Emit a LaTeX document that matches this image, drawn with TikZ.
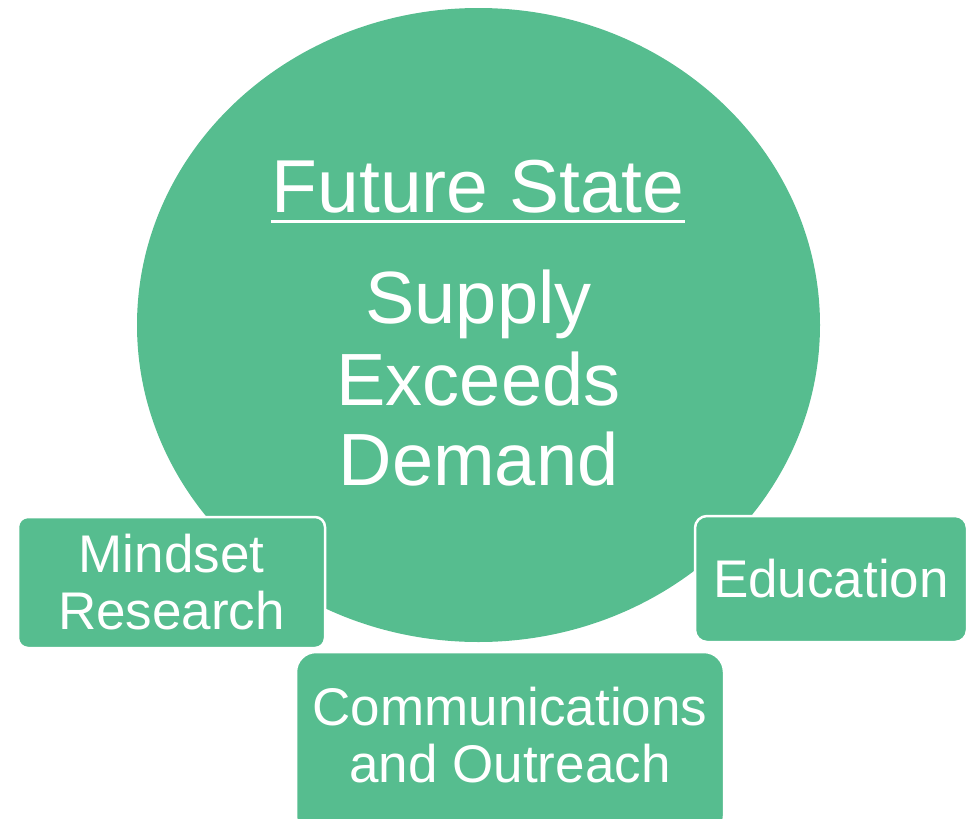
\documentclass[tikz,border=0pt]{standalone}
\usepackage{fontspec}
\setmainfont{Liberation Sans}
\usetikzlibrary{shapes.geometric,calc}
\definecolor{leaf}{RGB}{86,189,143}
\tikzset{
  blob/.style={ellipse, fill=leaf, draw=none, inner sep=0pt},
  pill/.style={rectangle, fill=leaf, draw=white, line width=2.5pt, text=white, align=center, inner sep=0pt},
  bigtxt/.style={text=white, inner sep=0pt, anchor=base, font=\fontsize{74}{81}\selectfont},
  smalltxt/.style={font=\fontsize{53}{57}\selectfont},
}
\begin{document}
\begin{tikzpicture}[x=1pt,y=-1pt]
\useasboundingbox (0,0) rectangle (975,819);
\node[blob, minimum width=683pt, minimum height=634pt] (circ) at (478.5,325) {};
\node[bigtxt, font=\fontsize{75}{81}\selectfont] (fs) at (478,212) {Future State};
\draw[white, line width=3pt] ($(fs.base west)+(0,9)$) -- ($(fs.base east)+(0,9)$);
\node[bigtxt] (l1) at (478.5,323) {Supply};
\node[bigtxt] (l2) at (478.5,405) {Exceeds};
\node[bigtxt] (l3) at (478.5,485) {Demand};
\node[pill, smalltxt, rounded corners=10pt, minimum width=307pt, minimum height=131pt] (mind) at (171.5,582.5) {Mindset\\Research};
\node[pill, smalltxt, rounded corners=12pt, minimum width=272pt, minimum height=126pt] (edu) at (831,579) {Education};
\node[pill, rounded corners=20pt, minimum width=428pt, minimum height=184pt] (comm) at (510,744) {};
\node[smalltxt, text=white, align=center, inner sep=0pt] (commtxt) at (510,735) {Communications\\and Outreach};
\end{tikzpicture}
\end{document}
